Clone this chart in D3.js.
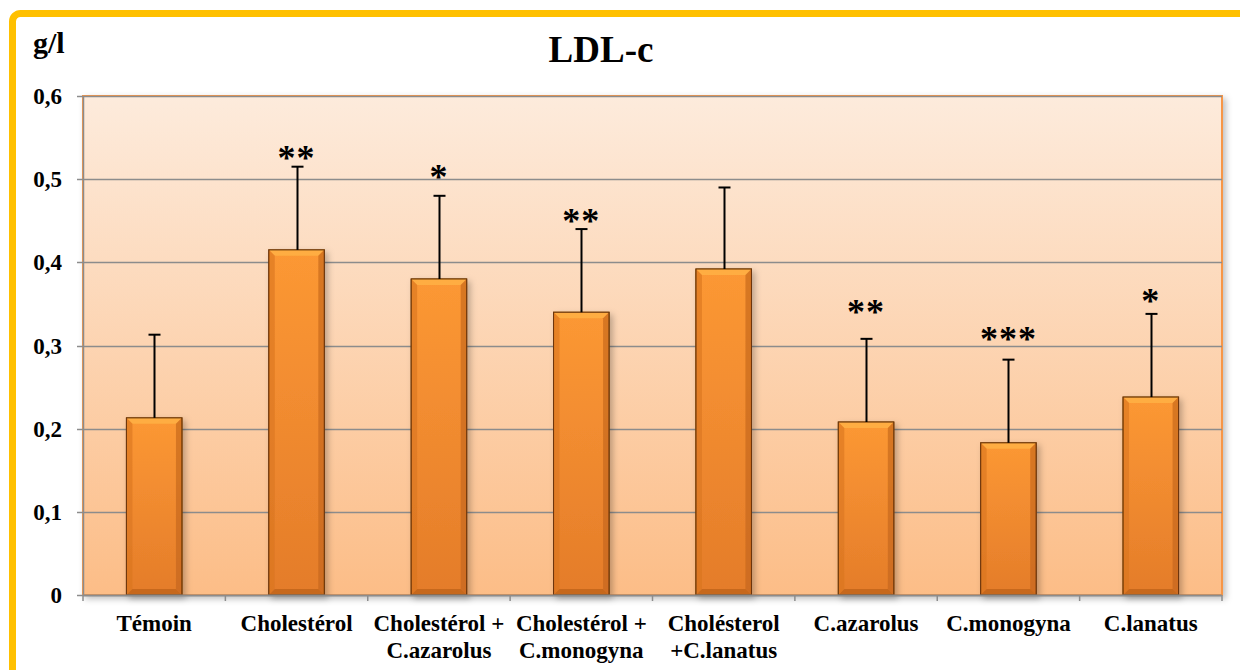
<!DOCTYPE html>
<html><head><meta charset="utf-8">
<script src="https://cdn.jsdelivr.net/npm/d3@7"></script>
<style>
html,body{margin:0;padding:0;background:#fff;}
svg text{font-family:"Liberation Serif","DejaVu Serif",serif;}
</style></head>
<body>
<svg id="c" width="1240" height="670"></svg>
<script>
const categories = [["Témoin"],["Cholestérol"],["Cholestérol +","C.azarolus"],["Cholestérol +","C.monogyna"],["Cholésterol","+C.lanatus"],["C.azarolus"],["C.monogyna"],["C.lanatus"]];
const values = [0.213, 0.415, 0.380, 0.340, 0.392, 0.208, 0.183, 0.238];
const errors = [0.100, 0.100, 0.100, 0.100, 0.098, 0.100, 0.100, 0.100];
const stars = ["", "**", "*", "**", "", "**", "***", "*"];
const starLevels = [0, 0.531, 0.509, 0.456, 0, 0.346, 0.314, 0.360];
const yTicks = [0, 0.1, 0.2, 0.3, 0.4, 0.5, 0.6];
const yTickLabels = ["0","0,1","0,2","0,3","0,4","0,5","0,6"];

const FONT = "'Liberation Serif', 'DejaVu Serif', serif";
const svg = d3.select("#c");
const defs = svg.append("defs");
const L = 83, R = 1222, T = 96, B = 595;

// frame
svg.append("rect").attr("x",12.5).attr("y",13.5).attr("width",1300).attr("height",800)
  .attr("rx",8).attr("fill","none").attr("stroke","#FFC000").attr("stroke-width",7);

// gradients
const bg = defs.append("linearGradient").attr("id","bg").attr("x1",0).attr("y1",0).attr("x2",0).attr("y2",1);
bg.append("stop").attr("offset","0%").attr("stop-color","#fdebdc");
bg.append("stop").attr("offset","100%").attr("stop-color","#fcbd87");
const bar = defs.append("linearGradient").attr("id","bar").attr("x1",0).attr("y1",0).attr("x2",0).attr("y2",1);
bar.append("stop").attr("offset","0%").attr("stop-color","#fc9834");
bar.append("stop").attr("offset","100%").attr("stop-color","#e47c2a");
const sh = defs.append("filter").attr("id","sh").attr("x","-10%").attr("y","-10%").attr("width","130%").attr("height","130%");
sh.append("feDropShadow").attr("dx",3).attr("dy",3).attr("stdDeviation",3).attr("flood-color","#000").attr("flood-opacity",0.25);

const x = d3.scaleBand().domain(d3.range(categories.length)).range([L, R]).paddingInner(0.61).paddingOuter(0.305);
const band = (R - L) / categories.length;
const y = d3.scaleLinear().domain([0, 0.6]).range([B, T]);

// plot area
svg.append("rect").attr("x",L).attr("y",T).attr("width",R-L).attr("height",B-T)
  .attr("fill","url(#bg)").attr("stroke","#f79646").attr("stroke-width",2).attr("filter","url(#sh)");

// grid
svg.append("g").selectAll("line").data(yTicks.slice(1)).join("line")
  .attr("x1",L).attr("x2",R).attr("y1",d=>Math.round(y(d))+0.5).attr("y2",d=>Math.round(y(d))+0.5)
  .attr("stroke","#8c8c8c").attr("stroke-width",1.5);

// bars
const g = svg.append("g");
values.forEach((v,i)=>{
  const bx = x(i), bw = x.bandwidth(), by = y(v), bh = B - y(v);
  const gg = g.append("g").attr("filter","url(#sh)");
  gg.append("rect").attr("x",bx).attr("y",by).attr("width",bw).attr("height",bh)
    .attr("fill","url(#bar)").attr("stroke","#7a3f0c").attr("stroke-width",1);
  const e = 6;
  gg.append("path").attr("d",`M${bx},${by} L${bx+bw},${by} L${bx+bw-e},${by+e} L${bx+e},${by+e} Z`).attr("fill","#ffb347").attr("opacity",0.8);
  gg.append("path").attr("d",`M${bx},${by} L${bx+e},${by+e} L${bx+e},${B-e} L${bx},${B} Z`).attr("fill","#d9741f").attr("opacity",0.6);
  gg.append("path").attr("d",`M${bx+bw},${by} L${bx+bw-e},${by+e} L${bx+bw-e},${B-e} L${bx+bw},${B} Z`).attr("fill","#c0621a").attr("opacity",0.6);
  gg.append("path").attr("d",`M${bx},${B} L${bx+e},${B-e} L${bx+bw-e},${B-e} L${bx+bw},${B} Z`).attr("fill","#b35a16").attr("opacity",0.6);
  gg.append("rect").attr("x",bx).attr("y",by).attr("width",bw).attr("height",bh)
    .attr("fill","none").attr("stroke","#6b3608").attr("stroke-width",1);
});

// error bars
const eb = svg.append("g").attr("stroke","#000").attr("stroke-width",2);
values.forEach((v,i)=>{
  const cx = Math.round(x(i)+x.bandwidth()/2)+0.5;
  eb.append("line").attr("x1",cx).attr("x2",cx).attr("y1",y(v)).attr("y2",y(v+errors[i]));
  eb.append("line").attr("x1",cx-6).attr("x2",cx+6).attr("y1",y(v+errors[i])).attr("y2",y(v+errors[i]));
});

// stars
svg.append("g").selectAll("text").data(stars).join("text")
  .attr("font-family",FONT)
  .attr("x",(d,i)=>x(i)+x.bandwidth()/2).attr("y",(d,i)=>y(starLevels[i])+17)
  .attr("text-anchor","middle").attr("font-size",36).attr("font-weight","bold").attr("fill","#000")
  .attr("letter-spacing",1)
  .text(d=>d);

// axes lines
svg.append("line").attr("x1",L+0.5).attr("x2",L+0.5).attr("y1",T).attr("y2",B).attr("stroke","#8c8c8c").attr("stroke-width",1.5);
svg.append("line").attr("x1",L).attr("x2",R).attr("y1",B+0.5).attr("y2",B+0.5).attr("stroke","#8c8c8c").attr("stroke-width",2);
svg.append("g").selectAll("line").data(yTicks).join("line")
  .attr("x1",L-6).attr("x2",L).attr("y1",d=>Math.round(y(d))+0.5).attr("y2",d=>Math.round(y(d))+0.5)
  .attr("stroke","#8c8c8c").attr("stroke-width",1.5);
svg.append("g").selectAll("line").data(d3.range(categories.length+1)).join("line")
  .attr("x1",d=>L+d*band).attr("x2",d=>L+d*band).attr("y1",B).attr("y2",B+6)
  .attr("stroke","#8c8c8c").attr("stroke-width",1.5);

// y labels
svg.append("g").selectAll("text").data(yTicks).join("text")
  .attr("font-family",FONT)
  .attr("x",62).attr("y",d=>y(d)+8).attr("text-anchor","end")
  .attr("font-size",23).attr("font-weight","bold").text((d,i)=>yTickLabels[i]);

// x labels
const xl = svg.append("g").selectAll("text").data(categories).join("text")
  .attr("font-family",FONT)
  .attr("x",(d,i)=>x(i)+x.bandwidth()/2).attr("y",631)
  .attr("text-anchor","middle").attr("font-size",23).attr("font-weight","bold");
xl.each(function(d){
  const t = d3.select(this);
  d.forEach((s,k)=>t.append("tspan").attr("x",t.attr("x")).attr("dy",k===0?0:27).text(s));
});

// title and unit
svg.append("text").attr("font-family",FONT).attr("x",601).attr("y",62).attr("text-anchor","middle")
  .attr("font-size",37).attr("font-weight","bold").text("LDL-c");
svg.append("text").attr("font-family",FONT).attr("x",33).attr("y",53).attr("font-size",30).attr("font-weight","bold").text("g/l");
</script>
</body></html>
